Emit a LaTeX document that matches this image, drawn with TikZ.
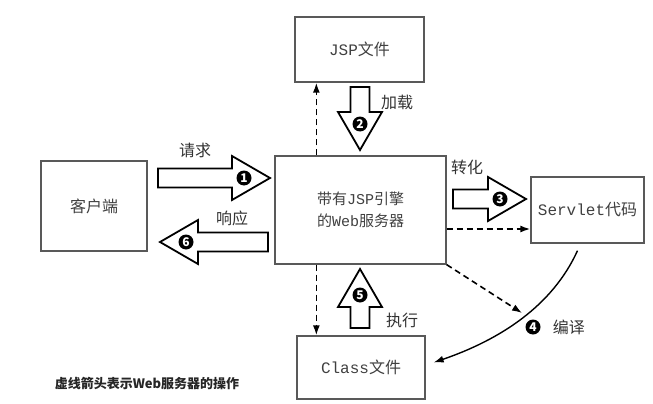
\documentclass[tikz,border=0pt]{standalone}
\usepackage{fontspec}
\setmainfont{Noto Sans CJK SC}
\newfontfamily\mono{Liberation Mono}
\usetikzlibrary{arrows.meta, positioning, calc}

\begin{document}
\begin{tikzpicture}[>=Stealth, x=1pt, y=-1pt,
  box/.style={draw=black!65, line width=1.3pt, inner sep=0pt, text=black!75, font=\fontsize{16}{20}\selectfont},
  lbl/.style={text=black!80, inner sep=0pt, font=\fontsize{16}{20}\selectfont},
  numdot/.style={circle, fill=black, text=white, inner sep=0pt, minimum size=15pt, font=\fontsize{12}{12}\selectfont\bfseries},
  dasharrow/.style={-{Latex[length=10pt,width=7pt]}, dash pattern=on 6pt off 4pt, line width=1.6pt},
  blk/.style={draw=black, line width=1.8pt, fill=white, line join=miter},
  pics/blkarrow/.style 2 args={code={
    \draw[blk] (0,-9.5) -- (#1,-9.5) -- (#1,-22) -- ({#1+38},0) -- (#1,22) -- (#1,9.5) -- (0,9.5) -- cycle;
    \node[numdot] (-dot) at ({#1+12},0) {#2};
  }}]
  \useasboundingbox (0,0) rectangle (653,404);

  % boxes
  \node[box, minimum width=106pt, minimum height=90pt] (client) at (94,206) {客户端};
  \node[box, minimum width=171pt, minimum height=108pt, align=center, font=\fontsize{15}{22}\selectfont] (server) at (360.5,210) {带有{\mono JSP}引擎\\的{\mono Web}服务器};
  \node[box, minimum width=129pt, minimum height=65pt] (jsp) at (359.5,49.5) {{\mono JSP}文件};
  \node[box, minimum width=113pt, minimum height=66pt] (servlet) at (587.5,210) {{\mono Servlet}代码};
  \node[box, minimum width=128pt, minimum height=63pt] (classf) at (361,367.5) {{\mono Class}文件};

  % numbered block arrows
  \pic (req) at (158,178) {blkarrow={74}{1}};
  \pic[rotate=-90] (load) at (360,87) {blkarrow={25}{2}};
  \pic (conv) at (453,199) {blkarrow={35}{3}};
  \pic[rotate=90] (exec) at (360,328) {blkarrow={21}{5}};
  \pic[rotate=180] (resp) at (268,242) {blkarrow={70}{6}};

  \node[lbl] (reqtxt) at (195,150) {请求};
  \node[lbl] (resptxt) at (232,218) {响应};
  \node[lbl] (loadtxt) at (397,102) {加载};
  \node[lbl] (convtxt) at (467,167) {转化};
  \node[lbl] (exectxt) at (402,320) {执行};

  % dashed arrows: operations of the web server
  \coordinate (up1) at ([xshift=42pt]server.north west);
  \draw[dasharrow] (up1) -- (up1 |- jsp.south);
  \coordinate (dn1) at ([xshift=42pt]server.south west);
  \draw[dasharrow] (dn1) -- (dn1 |- classf.north);
  \coordinate (rt1) at ([yshift=-19pt]server.east);
  \draw[dasharrow] (rt1) -- (rt1 -| servlet.west);
  \coordinate (cmp) at (522,313);
  \draw[dasharrow] (server.south east) -- (cmp);

  % compile
  \draw[line width=1.4pt, -{Latex[length=10pt,width=7pt]}] ([xshift=-10pt,yshift=-7pt]servlet.south)
    .. controls +(-25,55) and +(67,-23) .. ([xshift=8pt,yshift=5pt]classf.east);
  \node[numdot] (n4) at (533,327) {4};
  \node[lbl, right=12pt of n4] (comptxt) {编译};

  \node[text=black!85, font=\fontsize{13}{15}\selectfont\bfseries] (note) at (147,383) {虚线箭头表示{Web}服务器的操作};
\end{tikzpicture}
\end{document}
